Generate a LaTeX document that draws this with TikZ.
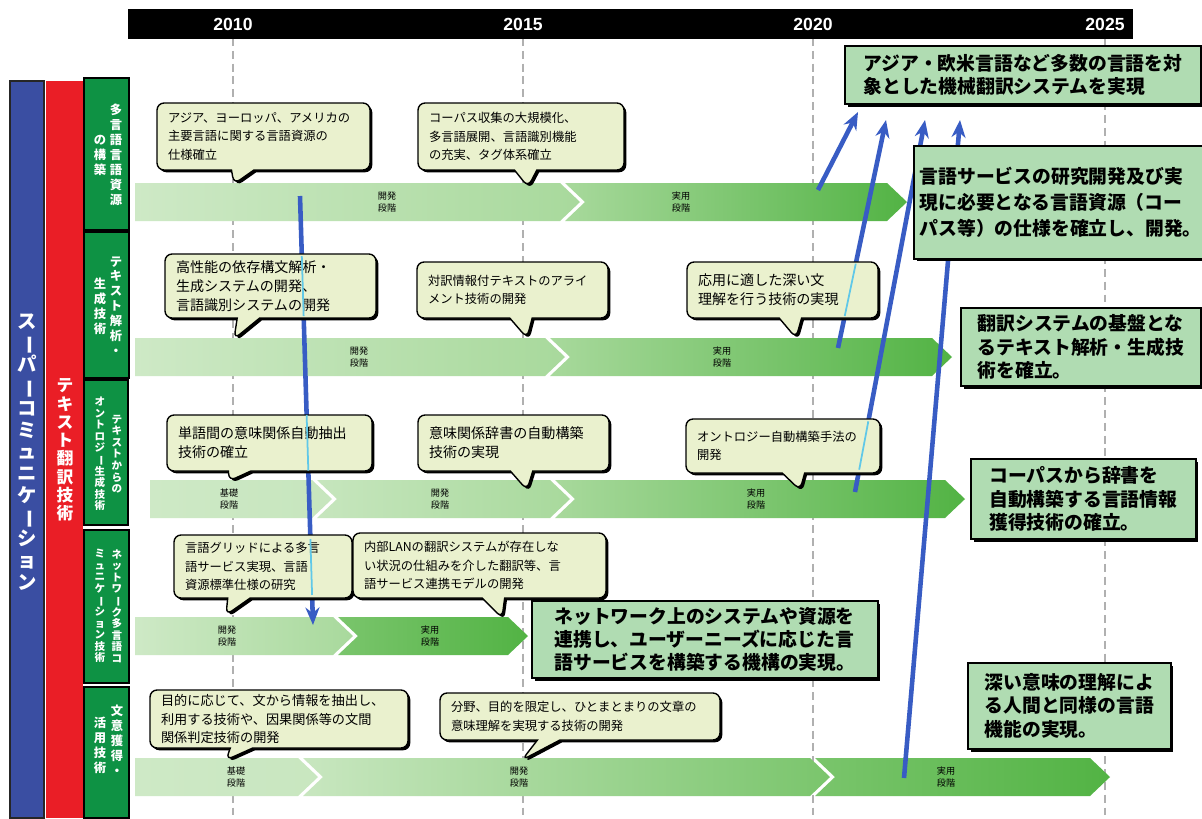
\documentclass[tikz,border=0pt]{standalone}
\usepackage{fontspec}
\usepackage{graphicx}
\usepackage{tikz}
\usetikzlibrary{shapes.callouts,shadows,arrows.meta,calc}
\setmainfont{Noto Sans CJK JP}
\newfontfamily\yearfont{Liberation Sans}
\definecolor{scblue}{RGB}{58,78,162}
\definecolor{scred}{RGB}{234,30,38}
\definecolor{scgreen}{RGB}{14,146,68}
\definecolor{bubblefill}{RGB}{234,241,206}
\definecolor{goalfill}{RGB}{176,220,178}
\definecolor{barA}{RGB}{206,233,198}
\definecolor{barB}{RGB}{168,217,156}
\definecolor{barC}{RGB}{122,197,108}
\definecolor{barD}{RGB}{82,179,68}
\definecolor{linkblue}{RGB}{56,92,196}
\definecolor{linkcyan}{RGB}{96,200,232}
\definecolor{gridgray}{RGB}{176,176,176}

% vertical (tategaki) stacks
\newcommand\vtchar[1]{\hbox to 1.1em{\hss\if ー#1\rotatebox[origin=c]{-90}{ー}\else #1\fi\hss}}
\def\vtloop#1{\ifx#1\relax\else\vtchar{#1}\expandafter\vtloop\fi}
\newcommand\vstack[2]{\vbox{\baselineskip=#1\lineskiplimit=-100pt\lineskip=0pt\vtloop#2\relax}}

% chevron segment: xa, xb, ytop, notch, left colour, right colour
\newcommand\chev[6]{%
  \shade[left color=#5, right color=#6] (#1,#3) -- (#2,#3) -- (#2+20,#3+19) -- (#2,#3+38) -- (#1,#3+38) -- (#1+#4,#3+19) -- cycle;}

\begin{document}
\begin{tikzpicture}[x=0.02cm, y=-0.02cm,
  gridline/.style={gridgray, line width=1.2pt, dash pattern=on 4.5pt off 2.8pt},
  year/.style={text=white, font=\yearfont\bfseries\fontsize{10}{12}\selectfont},
  stage/.style={align=center, inner sep=0pt, font=\fontsize{5.2}{6.4}\selectfont},
  bubble/.style={rectangle callout, draw=black, line width=0.8pt, fill=bubblefill,
    rounded corners=4pt, callout pointer width=0.45cm, align=left,
    inner xsep=0.22cm, inner ysep=2pt, font=\fontsize{7}{10.6}\selectfont,
    drop shadow={shadow xshift=1.3pt, shadow yshift=-1.3pt, opacity=1, fill=black}},
  bigger/.style={font=\fontsize{8}{10.8}\selectfont},
  goal/.style={draw=black, line width=1pt, fill=goalfill, anchor=north west, align=left,
    font=\bfseries\fontsize{10.7}{13.3}\selectfont,
    drop shadow={shadow xshift=1.5pt, shadow yshift=-1.5pt, opacity=1, fill=black}},
  link/.style={linkblue, line width=2.6pt, -{Stealth[length=10pt, width=8pt]}},
  trace/.style={linkcyan, line width=1pt},
  vlabel/.style={text=white, inner sep=0pt}]

  \fill[white] (0,0) rectangle (1202,818);
  \useasboundingbox (0,0) rectangle (1202,818);

  \foreach \xx in {233,523,813,1105}
    \draw[gridline] (\xx,38) -- (\xx,818);

  \fill[black] (128,9) rectangle (1133,39);
  \node[year] (y2010) at (233,24) {2010};
  \node[year] (y2015) at (523,24) {2015};
  \node[year] (y2020) at (813,24) {2020};
  \node[year] (y2025) at (1105,24) {2025};

  % stage bars
  \chev{135}{560}{183}{0}{barA}{barB}
  \chev{565}{887}{183}{20}{barB}{barD}
  \node[stage] (s11) at (387,202) {開発\\段階};
  \node[stage] (s12) at (681,202) {実用\\段階};

  \chev{135}{545}{338}{0}{barA}{barB}
  \chev{550}{932}{338}{20}{barB}{barD}
  \node[stage] (s21) at (359,357) {開発\\段階};
  \node[stage] (s22) at (722,357) {実用\\段階};

  \chev{150}{312}{480}{0}{barA}{barA!80!barB}
  \chev{317}{550}{480}{20}{barA!80!barB}{barB}
  \chev{555}{945}{480}{20}{barB}{barD}
  \node[stage] (s31) at (229,499) {基礎\\段階};
  \node[stage] (s32) at (440,499) {開発\\段階};
  \node[stage] (s33) at (756,499) {実用\\段階};

  \chev{135}{333}{617}{0}{barA}{barB}
  \chev{338}{508}{617}{20}{barC}{barD}
  \node[stage] (s41) at (227,636) {開発\\段階};
  \node[stage] (s42) at (430,636) {実用\\段階};

  \chev{135}{298}{758}{0}{barA}{barA!85!barB}
  \chev{303}{810}{758}{20}{barA!85!barB}{barC}
  \chev{815}{1090}{758}{20}{barC}{barD}
  \node[stage] (s51) at (236,777) {基礎\\段階};
  \node[stage] (s52) at (519,777) {開発\\段階};
  \node[stage] (s53) at (946,777) {実用\\段階};

  % links
  \coordinate (a1s) at (300,196);
  \coordinate (a1e) at (313,625);
  \coordinate (a2s) at (818,190);
  \coordinate (a2e) at (858,112);
  \coordinate (a3s) at (838,348);
  \coordinate (a3e) at (886,120);
  \coordinate (a4s) at (855,492);
  \coordinate (a4e) at (925,120);
  \coordinate (a5s) at (904,778);
  \coordinate (a5e) at (960,120);
  \draw[link] (a1s) -- (a1e);
  \draw[link] (a2s) -- (a2e);
  \draw[link] (a3s) -- (a3e);
  \draw[link] (a4s) -- (a4e);
  \draw[link] (a5s) -- (a5e);

  % callouts
  \coordinate (t1) at (234,184);
  \coordinate (t2) at (528,187);
  \coordinate (t3) at (234,339);
  \coordinate (t4) at (527,338);
  \coordinate (t5) at (796,338);
  \coordinate (t6) at (229,481);
  \coordinate (t7) at (527,490);
  \coordinate (t8) at (800,490);
  \coordinate (t9) at (226,615);
  \coordinate (t10) at (502,618);
  \coordinate (t11) at (226,760);
  \coordinate (t12) at (522,760);

  \node[bubble, text width=3.82cm, minimum height=1.34cm, callout absolute pointer={(t1)}] (c1) at (263.5,136.5)
    {アジア、ヨーロッパ、アメリカの\\主要言語に関する言語資源の\\仕様確立};
  \node[bubble, text width=3.68cm, minimum height=1.34cm, callout absolute pointer={(t2)}] (c2) at (521,136.5)
    {コーパス収集の大規模化、\\多言語展開、言語識別機能\\の充実、タグ体系確立};
  \node[bubble, bigger, text width=3.78cm, minimum height=1.28cm, callout absolute pointer={(t3)}] (c3) at (270.5,286)
    {高性能の依存構文解析・\\生成システムの開発、\\言語識別システムの開発};
  \node[bubble, text width=3.38cm, minimum height=1.12cm, callout absolute pointer={(t4)}] (c4) at (512.5,290)
    {対訳情報付テキストのアライ\\メント技術の開発};
  \node[bubble, bigger, text width=3.38cm, minimum height=1.12cm, callout absolute pointer={(t5)}] (c5) at (782.5,290)
    {応用に適した深い文\\理解を行う技術の実現};
  \node[bubble, bigger, text width=3.66cm, minimum height=1.12cm, callout absolute pointer={(t6)}] (c6) at (269.5,443)
    {単語間の意味関係自動抽出\\技術の確立};
  \node[bubble, bigger, text width=3.38cm, minimum height=1.12cm, callout absolute pointer={(t7)}] (c7) at (513.5,443)
    {意味関係辞書の自動構築\\技術の実現};
  \node[bubble, text width=3.44cm, minimum height=1.08cm, callout absolute pointer={(t8)}] (c8) at (783,446)
    {オントロジー自動構築手法の\\開発};
  \node[bubble, text width=3.12cm, minimum height=1.26cm, callout absolute pointer={(t9)}] (c9) at (263,566.5)
    {言語グリッドによる多言\\語サービス実現、言語\\資源標準仕様の研究};
  \node[bubble, text width=4.62cm, minimum height=1.30cm, callout absolute pointer={(t10)}] (c10) at (479.5,565.5)
    {内部LANの翻訳システムが存在しな\\い状況の仕組みを介した翻訳等、言\\語サービス連携モデルの開発};
  \node[bubble, font=\fontsize{7.5}{10.6}\selectfont, text width=4.72cm, minimum height=1.16cm, callout absolute pointer={(t11)}] (c11) at (279,719)
    {目的に応じて、文から情報を抽出し、\\利用する技術や、因果関係等の文間\\関係判定技術の開発};
  \node[bubble, text width=5.16cm, minimum height=0.94cm, callout absolute pointer={(t12)}] (c12) at (580,716.5)
    {分野、目的を限定し、ひとまとまりの文章の\\意味理解を実現する技術の開発};

  % links seen through the callouts
  \draw[trace] ($(a1s)!0.14!(a1e)$) -- ($(a1s)!0.28!(a1e)$);
  \draw[trace] ($(a1s)!0.51!(a1e)$) -- ($(a1s)!0.64!(a1e)$);
  \draw[trace] ($(a1s)!0.80!(a1e)$) -- ($(a1s)!0.93!(a1e)$);
  \draw[trace] ($(a3s)!0.14!(a3e)$) -- ($(a3s)!0.37!(a3e)$);
  \draw[trace] ($(a4s)!0.06!(a4e)$) -- ($(a4s)!0.19!(a4e)$);

  % goals
  \node[goal, minimum width=7.12cm, minimum height=1.16cm] (g1) at (844,45)
    {アジア・欧米言語など多数の言語を対\\象とした機械翻訳システムを実現};
  \node[goal, minimum width=5.74cm, minimum height=2.26cm, font=\bfseries\fontsize{10.7}{14.7}\selectfont] (g2) at (913,145)
    {言語サービスの研究開発及び実\\現に必要となる言語資源（コー\\パス等）の仕様を確立し、開発。};
  \node[goal, minimum width=4.8cm, minimum height=1.56cm] (g3) at (960,307)
    {翻訳システムの基盤とな\\るテキスト解析・生成技\\術を確立。};
  \node[goal, minimum width=4.5cm, minimum height=1.6cm] (g4) at (970,458)
    {コーパスから辞書を\\自動構築する言語情報\\獲得技術の確立。};
  \node[goal, minimum width=6.92cm, minimum height=1.54cm] (g5) at (531,600)
    {ネットワーク上のシステムや資源を\\連携し、ユーザーニーズに応じた言\\語サービスを構築する機構の実現。};
  \node[goal, minimum width=4.06cm, minimum height=1.72cm] (g6) at (967,662)
    {深い意味の理解によ\\る人間と同様の言語\\機能の実現。};

  % side columns
  \draw[fill=scblue, draw=black!85, line width=1.2pt] (10,81) rectangle (44,818);
  \fill[scred] (46,81) rectangle (83,818);
  \draw[fill=scgreen, line width=1pt] (84,78) rectangle (129,230);
  \draw[fill=scgreen, line width=1pt] (84,232) rectangle (129,378);
  \draw[fill=scgreen, line width=1pt] (84,380) rectangle (128,525);
  \draw[fill=scgreen, line width=1pt] (84,530) rectangle (129,683);
  \draw[fill=scgreen, line width=1pt] (84,687) rectangle (129,818);

  \node[vlabel, font=\bfseries\fontsize{11}{13}\selectfont] (supercom) at (27,452)
    {\vstack{12.4pt}{スーパーコミュニケーション}};
  \node[vlabel, font=\bfseries\fontsize{9.5}{11}\selectfont] (textrans) at (65,450)
    {\vstack{10.4pt}{テキスト翻訳技術}};

  \node[vlabel, font=\bfseries\fontsize{7}{8}\selectfont] (h1a) at (116,155) {\vstack{8.5pt}{多言語言語資源}};
  \node[vlabel, font=\bfseries\fontsize{7}{8}\selectfont] (h1b) at (100,155) {\vstack{8.5pt}{の構築}};
  \node[vlabel, font=\bfseries\fontsize{7}{8}\selectfont] (h2a) at (116,306) {\vstack{8.5pt}{テキスト解析・}};
  \node[vlabel, font=\bfseries\fontsize{7}{8}\selectfont] (h2b) at (100,306) {\vstack{8.5pt}{生成技術}};
  \node[vlabel, font=\bfseries\fontsize{6}{7}\selectfont] (h3a) at (117,454) {\vstack{6.6pt}{テキストからの}};
  \node[vlabel, font=\bfseries\fontsize{6}{7}\selectfont] (h3b) at (100,454) {\vstack{6.6pt}{オントロジー生成技術}};
  \node[vlabel, font=\bfseries\fontsize{6}{7}\selectfont] (h4a) at (117,606) {\vstack{6.6pt}{ネットワーク多言語コ}};
  \node[vlabel, font=\bfseries\fontsize{6}{7}\selectfont] (h4b) at (100,606) {\vstack{6.6pt}{ミュニケーション技術}};
  \node[vlabel, font=\bfseries\fontsize{7}{8}\selectfont] (h5a) at (117,740) {\vstack{8.5pt}{文意獲得・}};
  \node[vlabel, font=\bfseries\fontsize{7}{8}\selectfont] (h5b) at (100,745) {\vstack{8.5pt}{活用技術}};
\end{tikzpicture}
\end{document}
